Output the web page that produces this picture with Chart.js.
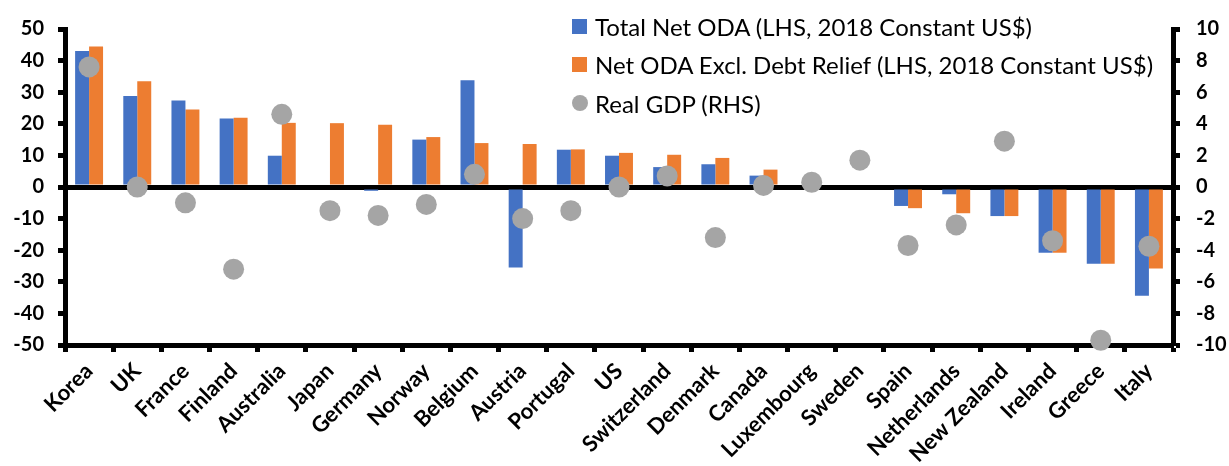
<!DOCTYPE html>
<html>
<head>
<meta charset="utf-8">
<script src="https://cdn.jsdelivr.net/npm/chart.js@4"></script>
<style>
  body { margin: 0; background: #fff; }
  #wrap { position: relative; width: 1229px; height: 466px; }
  #legend { position: absolute; left: 572px; top: 7px; font-family: Lato, sans-serif; font-size: 24px; color: #000; }
  #legend div { height: 38.5px; display: flex; align-items: center; white-space: nowrap; }
  #legend span.box { display: inline-block; width: 15px; height: 15px; margin-right: 8px; }
  #legend span.dot { display: inline-block; width: 16px; height: 16px; border-radius: 50%; margin-right: 7px; }
</style>
</head>
<body>
<div id="wrap">
  <canvas id="myChart" width="1229" height="466"></canvas>
  <div id="legend"></div>
</div>
<script>
const countries = ['Korea', 'UK', 'France', 'Finland', 'Australia', 'Japan', 'Germany', 'Norway', 'Belgium', 'Austria', 'Portugal', 'US', 'Switzerland', 'Denmark', 'Canada', 'Luxembourg', 'Sweden', 'Spain', 'Netherlands', 'New Zealand', 'Ireland', 'Greece', 'Italy'];

// LHS, 2018 constant US$
const totalNetOda = [43.0, 28.8, 27.4, 21.7, 9.9, 0, -1.2, 15.0, 33.8, -25.5, 11.8, 9.9, 6.3, 7.2, 3.6, 0, 0, -6.0, -2.3, -9.2, -20.8, -24.3, -34.4];
const netOdaExclDebt = [44.5, 33.5, 24.5, 21.9, 20.3, 20.2, 19.7, 15.8, 13.9, 13.6, 11.9, 10.8, 10.2, 9.2, 5.5, 0, 0, -6.7, -8.3, -9.2, -20.8, -24.3, -25.8];

// RHS
const realGdp = [7.6, 0.0, -1.0, -5.2, 4.6, -1.5, -1.8, -1.1, 0.8, -2.0, -1.5, 0.0, 0.7, -3.2, 0.1, 0.3, 1.7, -3.7, -2.4, 2.9, -3.4, -9.7, -3.75];

const leftTicks = { min: -50, max: 50, step: 10 };
const rightTicks = { min: -10, max: 10, step: 2 };

const ctx = document.getElementById('myChart');

const tickFont = { family: 'Lato', size: 20, weight: 'bold' };

const chart = new Chart(ctx, {
  type: 'bar',
  data: {
    labels: countries,
    datasets: [{
      type: 'line',
      label: 'Real GDP (RHS)',
      data: realGdp,
      yAxisID: 'y2',
      showLine: false,
      pointRadius: 10.5,
      pointHoverRadius: 10.5,
      pointBackgroundColor: '#A5A5A5',
      pointBorderWidth: 0,
      borderColor: '#A5A5A5',
      backgroundColor: '#A5A5A5',
      clip: false,
      order: 0
    }, {
      label: 'Total Net ODA (LHS, 2018 Constant US$)',
      data: totalNetOda,
      backgroundColor: '#4472C4',
      yAxisID: 'y',
      order: 1
    }, {
      label: 'Net ODA Excl. Debt Relief (LHS, 2018 Constant US$)',
      data: netOdaExclDebt,
      backgroundColor: '#ED7D31',
      yAxisID: 'y',
      order: 1
    }]
  },
  options: {
    responsive: false,
    animation: false,
    layout: { padding: { top: 29, left: 0, right: 0, bottom: 0 } },
    datasets: {
      bar: { categoryPercentage: 0.58, barPercentage: 1.0 }
    },
    plugins: {
      legend: { display: false },
      tooltip: { enabled: false }
    },
    scales: {
      x: {
        grid: {
          offset: true,
          drawOnChartArea: false,
          tickLength: 7,
          tickColor: '#000',
          tickWidth: 5
        },
        border: { display: true, color: '#000', width: 5 },
        ticks: {
          color: '#000',
          font: { family: 'Lato', size: 22, weight: 'bold' },
          autoSkip: false,
          minRotation: 45,
          maxRotation: 45,
          padding: 6
        },
        afterFit: function (scale) { scale.height = 121; }
      },
      y: {
        position: 'left',
        min: leftTicks.min,
        max: leftTicks.max,
        ticks: { stepSize: leftTicks.step, color: '#000', font: tickFont, padding: 14 },
        grid: {
          color: (c) => c.tick && c.tick.value === 0 ? '#000' : 'rgba(0,0,0,0)',
          lineWidth: 5,
          tickColor: '#000',
          tickWidth: 5,
          tickLength: 7
        },
        border: { display: true, color: '#000', width: 5 },
        afterFit: function (scale) { scale.width = 65; }
      },
      y2: {
        position: 'right',
        min: rightTicks.min,
        max: rightTicks.max,
        ticks: { stepSize: rightTicks.step, color: '#000', font: tickFont, padding: 16 },
        grid: {
          drawOnChartArea: false,
          tickColor: '#000',
          tickWidth: 5,
          tickLength: 7
        },
        border: { display: true, color: '#000', width: 5 },
        afterFit: function (scale) { scale.width = 56; }
      }
    }
  }
});

// html legend, built from the datasets (bars first, then gdp)
const legend = document.getElementById('legend');
[1, 2, 0].forEach(function (i) {
  const ds = chart.data.datasets[i];
  const row = document.createElement('div');
  const mark = document.createElement('span');
  mark.className = ds.type === 'line' ? 'dot' : 'box';
  mark.style.background = ds.backgroundColor;
  row.appendChild(mark);
  row.appendChild(document.createTextNode(ds.label));
  legend.appendChild(row);
});
</script>
</body>
</html>
